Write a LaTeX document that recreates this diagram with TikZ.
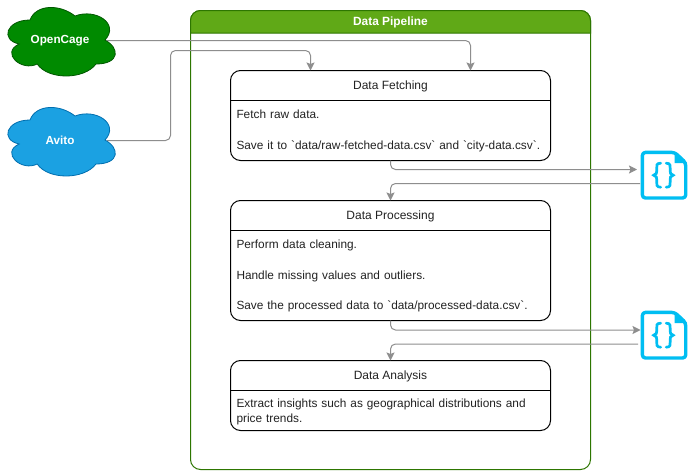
\documentclass[tikz,border=0pt]{standalone}
\usepackage{fontspec}
\newfontfamily\diagramfont{Liberation Sans}
\usetikzlibrary{calc,arrows.meta}
\definecolor{pipegreen}{HTML}{60A917}
\definecolor{pipeborder}{HTML}{2D7600}
\definecolor{linkgray}{HTML}{8E8E8E}
\definecolor{iconblue}{HTML}{00BEF2}
\definecolor{ocfill}{HTML}{008A00}
\definecolor{ocline}{HTML}{005700}
\definecolor{avfill}{HTML}{1BA1E2}
\definecolor{avline}{HTML}{006EAF}
\definecolor{bodytext}{HTML}{222222}
\newcommand{\cloudat}[4]{%
  \begin{scope}[shift={(#1,#2)},x=120pt,y=-80pt]
    \draw[fill=#3,draw=#4,line width=0.8pt] (.25,.25)
      .. controls (.05,.25) and (0,.5) .. (.16,.55)
      .. controls (0,.66) and (.18,.9) .. (.31,.8)
      .. controls (.4,1) and (.7,1) .. (.8,.8)
      .. controls (1,.8) and (1,.6) .. (.875,.5)
      .. controls (1,.3) and (.8,.1) .. (.625,.2)
      .. controls (.5,.05) and (.3,.05) .. (.25,.25) -- cycle;
  \end{scope}}
\newcommand{\jsonicon}[2]{%
  \begin{scope}[shift={(#1,#2)}]
    \draw[iconblue,line width=3.4pt,line join=round,rounded corners=3pt,fill=white]
      (1.7,1.7) -- (34,1.7) -- (45,12) -- (45,47.3) -- (1.7,47.3) -- cycle;
    \fill[iconblue] (34,1) -- (46.7,12.5) -- (34,12.5) -- cycle;
    \draw[iconblue,line width=2.7pt,line cap=round]
      (20,12.5) .. controls (15.5,12.5) and (16,15) .. (16,18)
      .. controls (16,22) and (16,24.5) .. (13,24.5)
      .. controls (16,24.5) and (16,27) .. (16,31)
      .. controls (16,34) and (15.5,36.5) .. (20,36.5);
    \draw[iconblue,line width=2.7pt,line cap=round]
      (25.5,12.5) .. controls (30,12.5) and (29.5,15) .. (29.5,18)
      .. controls (29.5,22) and (29.5,24.5) .. (32.5,24.5)
      .. controls (29.5,24.5) and (29.5,27) .. (29.5,31)
      .. controls (29.5,34) and (30,36.5) .. (25.5,36.5);
  \end{scope}}
\tikzset{
  x=1pt,y=-1pt,
  every node/.style={font=\diagramfont\fontsize{12}{14}\selectfont,inner sep=0pt,outer sep=0pt},
  cloudlabel/.style={text=white,font=\diagramfont\fontsize{11.7}{14}\selectfont\bfseries,minimum width=94pt,minimum height=20pt,align=center},
  stagebox/.style={draw=black,line width=1pt,rounded corners=10pt,minimum width=320pt},
  stagetitle/.style={text=bodytext,anchor=center},
  stagetext/.style={text=bodytext,font=\diagramfont\fontsize{11.85}{14}\selectfont,anchor=north west,align=left,text width=310pt},
  conn/.style={draw=linkgray,line width=1pt,rounded corners=5pt,-{Stealth[length=8pt,width=8pt,inset=1.5pt]}},
  iconspot/.style={minimum width=47pt,minimum height=49pt},
}
\begin{document}
\begin{tikzpicture}
\useasboundingbox (0,0) rectangle (689,471);
\fill[white] (0,0) rectangle (689,471);

% container
\node[draw=pipeborder,line width=1pt,rounded corners=10pt,minimum width=400pt,minimum height=459pt,anchor=north west] (pipeline) at (190.5,10.5) {};
\fill[pipegreen] (190.5,33) [rounded corners=10pt] -- (190.5,10.5) -- (590.5,10.5) [sharp corners] -- (590.5,33) -- cycle;
\draw[pipeborder,line width=1pt] (190.5,33) [rounded corners=10pt] -- (190.5,10.5) -- (590.5,10.5) [sharp corners] -- (590.5,33) -- cycle;
\node[text=white,font=\diagramfont\fontsize{11.9}{14}\selectfont\bfseries] (pipetitle) at (390.5,22.5) {Data Pipeline};

% clouds
\cloudat{0}{0}{ocfill}{ocline}
\cloudat{0}{100}{avfill}{avline}
\node[cloudlabel] (opencage) at (60,40.5) {OpenCage};
\node[cloudlabel] (avito) at (60,140.5) {Avito};

% stages
\node[stagebox,minimum height=90pt,anchor=north west] (fetch) at (230.5,70.5) {};
\draw[black,line width=1pt] (230.5,100.5) -- (550.5,100.5);
\node[stagetitle] (fetchtitle) at (390.5,86) {Data Fetching};
\node[stagetext] (fetchtext) at (236.5,110) {Fetch raw data.\\[16.5pt]Save it to `data/raw-fetched-data.csv` and `city-data.csv`.};

\node[stagebox,minimum height=120pt,anchor=north west] (process) at (230.5,200.5) {};
\draw[black,line width=1pt] (230.5,230.5) -- (550.5,230.5);
\node[stagetitle] (processtitle) at (390.5,216) {Data Processing};
\node[stagetext] (processtext) at (236.5,240) {Perform data cleaning.\\[16.5pt]Handle missing values and outliers.\\[16.5pt]Save the processed data to `data/processed-data.csv`.};

\node[stagebox,minimum height=70pt,anchor=north west] (analysis) at (230.5,360.5) {};
\draw[black,line width=1pt] (230.5,390.5) -- (550.5,390.5);
\node[stagetitle] (analysistitle) at (390.5,376) {Data Analysis};
\node[stagetext] (analysistext) at (236.5,398.5) {Extract insights such as geographical distributions and\\[1pt]price trends.};

% icons
\jsonicon{640.7}{150.7}
\jsonicon{640.7}{310.7}
\node[iconspot,anchor=north west] (jsona) at (641,151) {};
\node[iconspot,anchor=north west] (jsonb) at (641,311) {};

% connector anchors
\coordinate (fetchA) at ($(fetch.north west)!0.25!(fetch.north east)$);
\coordinate (fetchB) at ($(fetch.north west)!0.75!(fetch.north east)$);
\coordinate (jsonaIn) at (637,169.5);
\coordinate (jsonaOut) at (640,183.5);
\coordinate (jsonbIn) at (640.5,330);
\coordinate (jsonbOut) at (638,344);

% connectors
\draw[conn] (opencage.east |- 0,40.5) -| (fetchB);
\draw[conn] (avito.east |- 0,140.5) -- (170.5,140.5) -- (170.5,50.5) -- (310.5,50.5) -- (fetchA);
\draw[conn] (fetch.south) |- (jsonaIn);
\draw[conn] (jsonaOut) -| (process.north);
\draw[conn] (process.south) |- (jsonbIn);
\draw[conn] (jsonbOut) -| (analysis.north);
\end{tikzpicture}
\end{document}
